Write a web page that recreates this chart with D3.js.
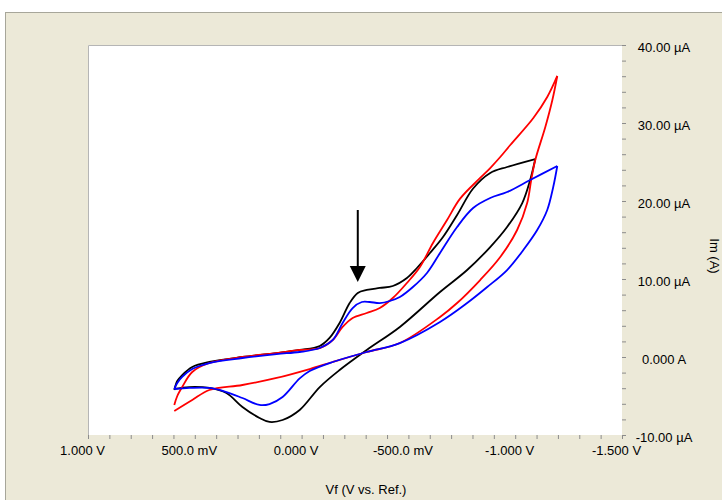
<!DOCTYPE html>
<html>
<head>
<meta charset="utf-8">
<script src="https://cdn.jsdelivr.net/npm/d3@7"></script>
<style>
  body { margin: 0; background: #fff; }
  text { font-family: "Liberation Sans", Arial, sans-serif; font-size: 13px; fill: #000; }
</style>
</head>
<body>
<div id="chart"></div>
<script>
// axis ticks and labels
const potentialTicks = [1, 0.5, 0, -0.5, -1, -1.5];
const potentialLabels = ["1.000 V", "500.0 mV", "0.000 V", "-500.0 mV", "-1.000 V", "-1.500 V"];
const currentTicks = [40, 30, 20, 10, 0, -10];
const currentLabels = ["40.00 µA", "30.00 µA", "20.00 µA", "10.00 µA", "0.000 A", "-10.00 µA"];

// black scan: potential (V) and current (µA)
const blackE = [0.596, 0.582, 0.559, 0.512, 0.432, 0.277, 0.117, 0.009, -0.085, -0.131, -0.178, -0.225, -0.263, -0.305, -0.366, -0.427, -0.493, -0.540, -0.601, -0.662, -0.728, -0.803, -0.883, -0.962, -1.094,
  -1.070, -1.033, -0.962, -0.883, -0.775, -0.648, -0.460, -0.305, -0.178, -0.085, 0.009, 0.089, 0.150, 0.197, 0.277, 0.352, 0.432, 0.526, 0.596];
const blackI = [-4.23, -3.08, -2.31, -1.28, -0.64, 0.00, 0.51, 0.90, 1.41, 2.44, 4.36, 6.92, 8.21, 8.59, 8.85, 9.10, 10.13, 11.41, 13.33, 15.38, 18.21, 21.60, 23.59, 24.36, 25.38,
  22.69, 19.74, 16.67, 14.10, 11.15, 8.33, 3.85, 0.90, -1.67, -3.85, -6.79, -8.08, -8.33, -7.82, -6.41, -4.62, -3.97, -3.85, -4.10];

// red scan
const redE = [0.596, 0.582, 0.559, 0.512, 0.432, 0.277, 0.117, 0.009, -0.085, -0.146, -0.192, -0.239, -0.305, -0.366, -0.427, -0.493, -0.554, -0.615, -0.681, -0.742, -0.836, -0.883, -0.930, -0.977, -1.085, -1.150, -1.197,
  -1.174, -1.141, -1.094, -1.075, -1.056, -1.009, -0.930, -0.836, -0.728, -0.648, -0.460, -0.305, -0.146, -0.038, 0.117, 0.277, 0.432, 0.512, 0.596];
const redI = [-6.15, -5.00, -3.85, -1.92, -0.77, 0.00, 0.51, 0.90, 1.15, 2.18, 3.85, 5.00, 5.64, 6.28, 7.56, 9.49, 11.54, 14.62, 17.56, 20.30, 22.95, 24.23, 25.64, 27.18, 30.64, 33.33, 36.03,
  32.95, 29.49, 25.26, 22.69, 19.74, 16.28, 12.82, 9.87, 6.92, 5.13, 1.79, 0.64, -0.64, -1.54, -2.69, -3.59, -4.23, -5.51, -6.92];

// blue scan
const blueE = [0.596, 0.582, 0.559, 0.512, 0.432, 0.277, 0.117, 0.009, -0.085, -0.146, -0.192, -0.239, -0.282, -0.319, -0.366, -0.413, -0.460, -0.521, -0.587, -0.648, -0.728, -0.803, -0.883, -0.962, -1.070, -1.197,
  -1.178, -1.150, -1.103, -1.038, -0.962, -0.869, -0.775, -0.648, -0.460, -0.305, -0.146, -0.038, 0.009, 0.089, 0.150, 0.197, 0.277, 0.352, 0.432, 0.526, 0.596];
const blueI = [-4.10, -3.33, -2.56, -1.54, -0.77, -0.13, 0.38, 0.64, 1.15, 2.18, 4.36, 6.28, 7.05, 7.05, 6.92, 7.18, 7.69, 8.97, 10.77, 13.33, 16.67, 19.10, 20.38, 21.15, 22.69, 24.49,
  21.79, 18.85, 16.28, 13.72, 11.15, 8.97, 6.92, 4.49, 1.79, 0.64, -0.64, -1.80, -2.75, -5.13, -6.03, -6.15, -5.26, -4.49, -3.97, -3.97, -4.10];

// arrow annotation: potential and current span
const arrowE = -0.263;
const arrowI = [18.85, 9.6];

const W = 722, H = 500;
const plot = { left: 88, top: 45, right: 622, bottom: 435 };

const svg = d3.select("#chart").append("svg")
  .attr("width", W).attr("height", H);

// beige panel
svg.append("rect")
  .attr("x", 5.5).attr("y", 12.5)
  .attr("width", W).attr("height", H)
  .attr("fill", "#ece9d8").attr("stroke", "#a7a69a");

// plot area
svg.append("rect")
  .attr("x", plot.left).attr("y", plot.top)
  .attr("width", plot.right - plot.left).attr("height", plot.bottom - plot.top)
  .attr("fill", "#fff");
svg.append("path")
  .attr("d", `M${plot.left + 0.5},${plot.bottom}V${plot.top + 0.5}H${plot.right}`)
  .attr("fill", "none").attr("stroke", "#b5b5b5");

const x = d3.scaleLinear().domain([1, -1.5]).range([plot.left, plot.right]);
const y = d3.scaleLinear().domain([-10, 40]).range([plot.bottom, plot.top]);

// minor ticks bottom
svg.append("g")
  .attr("transform", `translate(0,${plot.bottom})`)
  .call(d3.axisBottom(x).tickValues(d3.range(0, 26).map(i => 1 - i * 0.1)).tickSize(4).tickFormat(""))
  .call(g => g.select(".domain").remove())
  .call(g => g.selectAll("line").attr("stroke", "#8c8c8c"));

// x labels
svg.append("g")
  .attr("transform", `translate(0,${plot.bottom})`)
  .call(d3.axisBottom(x).tickValues(potentialTicks).tickSize(0).tickFormat((d, i) => potentialLabels[i]))
  .call(g => g.select(".domain").remove())
  .call(g => g.selectAll("text")
    .attr("y", 20).attr("dy", null).attr("dx", -6)
    .attr("font-family", "Liberation Sans, Arial, sans-serif").attr("font-size", 13).attr("fill", "#000"));

// minor ticks right
svg.append("g")
  .attr("transform", `translate(${plot.right},0)`)
  .call(d3.axisRight(y).tickValues(d3.range(0, 26).map(i => -10 + i * 2)).tickSize(4).tickFormat(""))
  .call(g => g.select(".domain").remove())
  .call(g => g.selectAll("line").attr("stroke", "#8c8c8c"));

// y labels
svg.append("g")
  .attr("transform", "translate(664,0)")
  .call(d3.axisRight(y).tickValues(currentTicks).tickSize(0).tickFormat((d, i) => currentLabels[i]))
  .call(g => g.select(".domain").remove())
  .call(g => g.selectAll("text")
    .attr("x", 0).attr("dy", "0.35em").attr("y", 2)
    .attr("text-anchor", "middle")
    .attr("font-family", "Liberation Sans, Arial, sans-serif").attr("font-size", 13).attr("fill", "#000"));

// axis titles
svg.append("text")
  .attr("x", 366).attr("y", 494)
  .attr("text-anchor", "middle")
  .text("Vf (V vs. Ref.)");
svg.append("text")
  .attr("transform", "translate(710,256) rotate(90)")
  .attr("text-anchor", "middle")
  .text("Im (A)");

// curves: split each scan at the switching potential
const line = d3.line()
  .x(d => x(d[0]))
  .y(d => y(d[1]))
  .curve(d3.curveCatmullRom.alpha(0.5));

const scans = [
  { E: blackE, I: blackI, color: "#000000" },
  { E: redE, I: redI, color: "#ff0000" },
  { E: blueE, I: blueI, color: "#0000ff" }
];

scans.forEach(s => {
  const pts = s.E.map((e, i) => [e, s.I[i]]);
  const v = d3.minIndex(s.E);
  [pts.slice(0, v + 1), pts.slice(v)].forEach(seg => {
    svg.append("path")
      .datum(seg)
      .attr("fill", "none")
      .attr("stroke", s.color)
      .attr("stroke-width", 1.8)
      .attr("stroke-linejoin", "round")
      .attr("d", line);
  });
});

// arrow
const ax = x(arrowE);
const tipY = y(arrowI[1]);
svg.append("line")
  .attr("x1", ax).attr("x2", ax)
  .attr("y1", y(arrowI[0])).attr("y2", tipY - 14)
  .attr("stroke", "#000").attr("stroke-width", 2);
svg.append("path")
  .attr("d", `M${ax - 8},${tipY - 16}L${ax + 8},${tipY - 16}L${ax},${tipY}Z`)
  .attr("fill", "#000");
</script>
</body>
</html>
